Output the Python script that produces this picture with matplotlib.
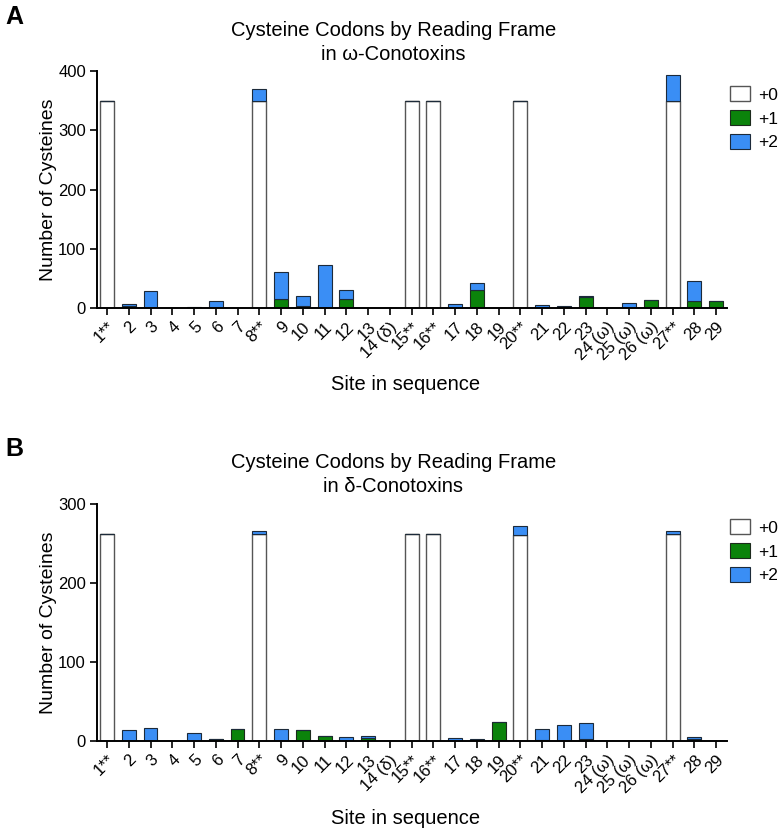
import matplotlib.pyplot as plt
import numpy as np

plt.rcParams['font.family'] = ['Liberation Sans', 'DejaVu Sans']

# Site labels
sites = ['1**', '2', '3', '4', '5', '6', '7', '8**', '9', '10', '11', '12', '13',
         '14 (δ)', '15**', '16**', '17', '18', '19', '20**', '21', '22', '23',
         '24 (ω)', '25 (ω)', '26 (ω)', '27**', '28', '29']

# omega-conotoxins: counts per reading frame
omega_f0 = [350, 0, 0, 0, 0, 0, 0, 350, 0, 0, 0, 0, 0, 0, 350, 350, 0, 0, 0, 350,
            0, 0, 0, 0, 0, 0, 350, 0, 0]
omega_f1 = [0, 3, 0, 0, 0, 0, 0, 0, 16, 4, 0, 15, 0, 0, 0, 0, 0, 30, 0, 0,
            0, 2, 18, 0, 0, 13, 0, 12, 11]
omega_f2 = [0, 4, 29, 0, 1, 12, 0, 20, 45, 16, 73, 16, 0, 0, 0, 0, 7, 13, 0, 0,
            5, 1, 3, 0, 8, 0, 43, 33, 0]

# delta-conotoxins: counts per reading frame
delta_f0 = [262, 0, 0, 0, 0, 0, 0, 262, 0, 0, 0, 0, 0, 0, 262, 262, 0, 0, 0, 261,
            0, 0, 0, 0, 0, 0, 262, 0, 0]
delta_f1 = [0, 0, 0, 0, 0, 2.5, 15, 0, 0, 13.5, 6, 0, 4, 0, 0, 0, 0, 1, 24, 0,
            1, 0, 2, 0, 0, 0, 0, 2.5, 0]
delta_f2 = [0, 14, 16, 0, 10, 0, 0, 4, 15, 0, 0, 5.5, 2, 0, 0, 0, 4, 1, 0, 11,
            14, 20, 21, 0, 0, 0, 4, 3, 0]

frame_labels = ['+0', '+1', '+2']
green = '#0b830b'
blue = '#3a8ef5'

W, H = 780, 831
fig = plt.figure(figsize=(W / 100, H / 100), dpi=100)


def panel(base_px, f0, f1, f2, ymax, yticks, title1, title2, letter, top_px):
    ax = fig.add_axes([97 / W, (H - base_px) / H, 630 / W, 237 / H])
    x = np.arange(len(sites))
    f0 = np.array(f0, float)
    f1 = np.array(f1, float)
    f2 = np.array(f2, float)
    b0 = ax.bar(x, f0, width=0.64, color='white', edgecolor='#555555', linewidth=1.0)
    b1 = ax.bar(x, f1, width=0.64, bottom=f0, color=green, edgecolor='#1c2a1c', linewidth=0.8)
    b2 = ax.bar(x, f2, width=0.64, bottom=f0 + f1, color=blue, edgecolor='#1c2a3a', linewidth=0.8)
    ax.set_xlim(-0.46, 28.5)
    ax.set_ylim(0, ymax)
    ax.set_yticks(yticks)
    ax.set_xticks(x)
    ax.set_xticklabels(sites, rotation=45, ha='right', rotation_mode='anchor', fontsize=12)
    ax.tick_params(axis='both', direction='out', length=5, width=1.2, labelsize=12, pad=3)
    for s in ['top', 'right']:
        ax.spines[s].set_visible(False)
    for s in ['left', 'bottom']:
        ax.spines[s].set_linewidth(1.4)
    ax.set_ylabel('Number of Cysteines', fontsize=14, va='center')
    ax.yaxis.set_label_coords((49 - 97) / 630, 0.5)
    fig.text(406 / W, 1 - (base_px + 77) / H, 'Site in sequence', ha='center', va='center',
             fontsize=14.5)
    fig.text(394 / W, 1 - (top_px - 42) / H, title1, ha='center', va='center', fontsize=14.5)
    fig.text(393 / W, 1 - (top_px - 18) / H, title2, ha='center', va='center', fontsize=14.5)
    fig.text(5 / W, 1 - (top_px - 55) / H, letter, fontsize=18, fontweight='bold', va='center')
    ax.legend(handles=[b0, b1, b2], labels=frame_labels, loc='upper left',
              bbox_to_anchor=((730 - 97) / 630, 1 - 15.5 / 237),
              frameon=False, fontsize=12.5, handlelength=1.15, handleheight=0.95,
              labelspacing=0.42, handletextpad=0.45, borderaxespad=0.0, borderpad=0.0)
    return ax


panel(308, omega_f0, omega_f1, omega_f2, 400, [0, 100, 200, 300, 400],
      'Cysteine Codons by Reading Frame', 'in ω-Conotoxins', 'A', 72)
panel(741, delta_f0, delta_f1, delta_f2, 300, [0, 100, 200, 300],
      'Cysteine Codons by Reading Frame', 'in δ-Conotoxins', 'B', 504)

fig.savefig('out.png', dpi=100)
